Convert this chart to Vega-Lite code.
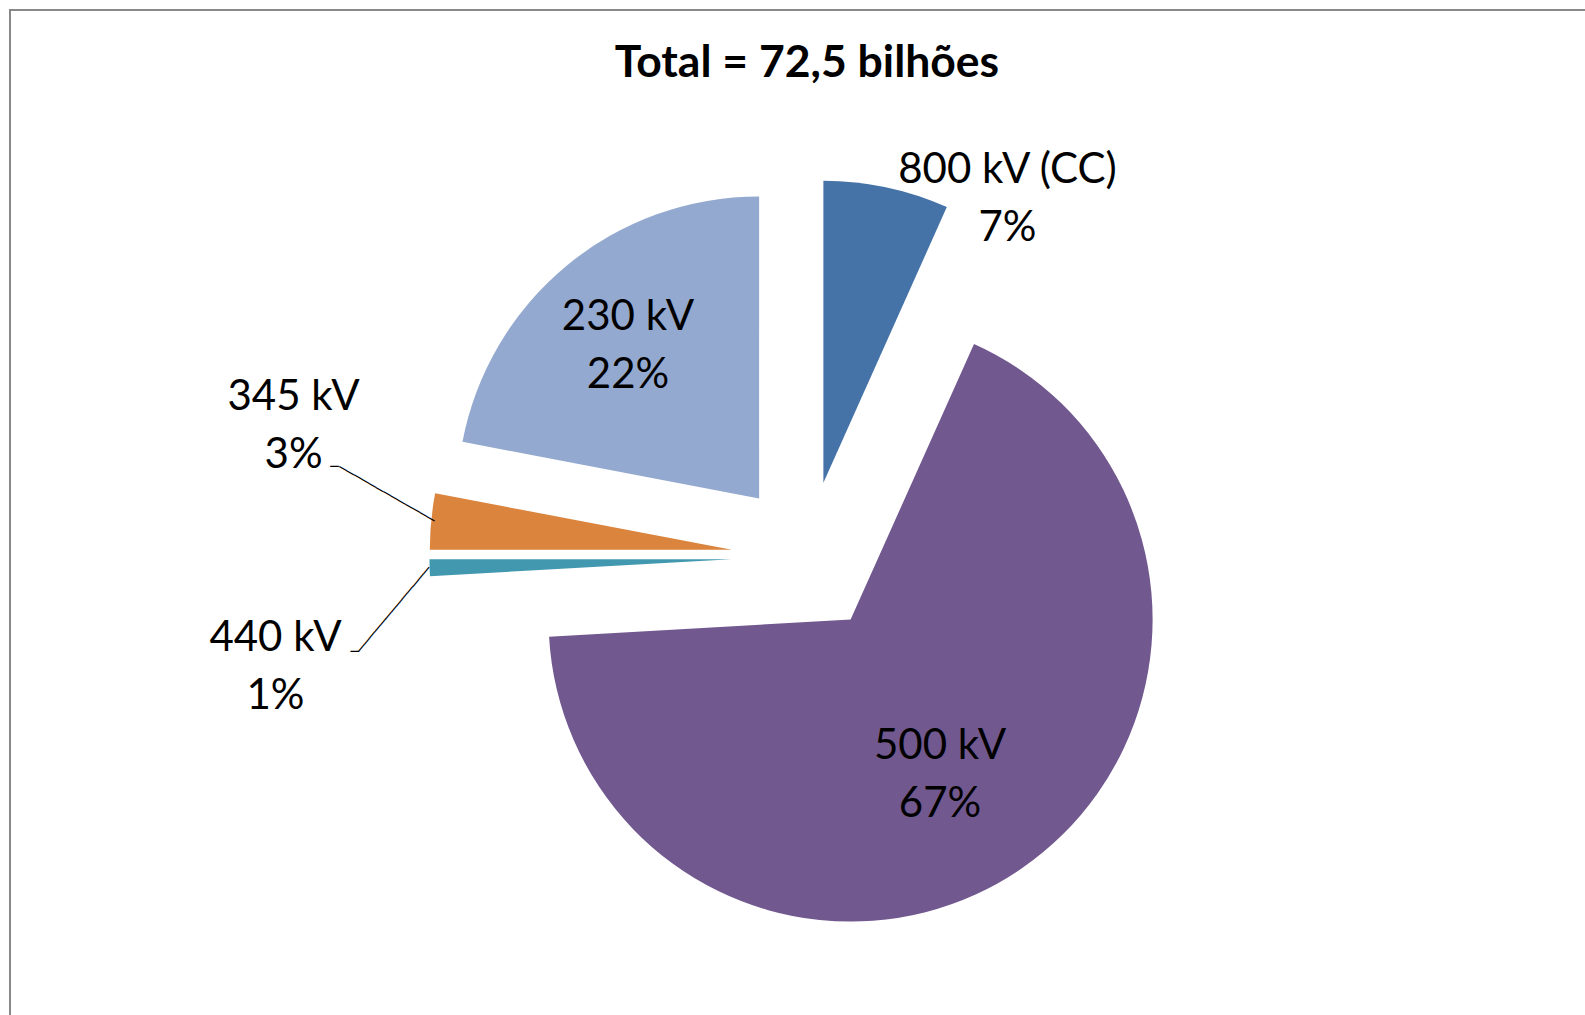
{
  "$schema": "https://vega.github.io/schema/vega-lite/v6.json",
  "width": 1575,
  "height": 1005,
  "autosize": "none",
  "padding": {"left": 10, "top": 10, "right": 0, "bottom": 0},
  "background": "white",
  "view": {"stroke": "#898989", "strokeWidth": 2, "fill": "white", "strokeDash": [1575, 2580, 1005, 10]},
  "config": {"font": "Lato"},
  "data": {"values": [
    {"idx": 1, "kV": "800 kV (CC)", "share": 6.7, "label": "800 kV (CC)\n7%"},
    {"idx": 2, "kV": "500 kV", "share": 67.4, "label": "500 kV\n67%"},
    {"idx": 3, "kV": "440 kV", "share": 0.9, "label": "440 kV\n1%"},
    {"idx": 4, "kV": "345 kV", "share": 3.0, "label": "345 kV\n3%"},
    {"idx": 5, "kV": "230 kV", "share": 22.0, "label": "230 kV\n22%"}
  ]},
  "transform": [{"stack": "share", "groupby": [], "sort": [{"field": "idx", "order": "ascending"}], "as": ["v0", "v1"]}],
  "layer": [
    {"transform": [{"filter": "datum.kV === '800 kV (CC)'"}],
     "mark": {"type": "arc", "radius": 302, "xOffset": 25.9, "yOffset": -29.8},
     "encoding": {"theta": {"field": "v0", "type": "quantitative", "scale": {"domain": [0, 100]}}, "theta2": {"field": "v1"},
       "color": {"field": "kV", "type": "nominal", "scale": {"domain": ["800 kV (CC)", "500 kV", "440 kV", "345 kV", "230 kV"], "range": ["#4572A7", "#71588F", "#4198AF", "#DB843D", "#93A9CF"]}, "legend": null}}},
    {"transform": [{"filter": "datum.kV === '500 kV'"}],
     "mark": {"type": "arc", "radius": 302, "xOffset": 53.1, "yOffset": 107.1},
     "encoding": {"theta": {"field": "v0", "type": "quantitative", "scale": {"domain": [0, 100]}}, "theta2": {"field": "v1"},
       "color": {"field": "kV", "type": "nominal", "legend": null}}},
    {"transform": [{"filter": "datum.kV === '440 kV'"}],
     "mark": {"type": "arc", "radius": 302, "xOffset": -66.0, "yOffset": 46.65},
     "encoding": {"theta": {"field": "v0", "type": "quantitative", "scale": {"domain": [0, 100]}}, "theta2": {"field": "v1"},
       "color": {"field": "kV", "type": "nominal", "legend": null}}},
    {"transform": [{"filter": "datum.kV === '345 kV'"}],
     "mark": {"type": "arc", "radius": 302, "xOffset": -65.7, "yOffset": 37.35},
     "encoding": {"theta": {"field": "v0", "type": "quantitative", "scale": {"domain": [0, 100]}}, "theta2": {"field": "v1"},
       "color": {"field": "kV", "type": "nominal", "legend": null}}},
    {"transform": [{"filter": "datum.kV === '230 kV'"}],
     "mark": {"type": "arc", "radius": 302, "xOffset": -38.4, "yOffset": -14.1},
     "encoding": {"theta": {"field": "v0", "type": "quantitative", "scale": {"domain": [0, 100]}}, "theta2": {"field": "v1"},
       "color": {"field": "kV", "type": "nominal", "legend": null}}},
    {"mark": {"type": "text", "radius": 299, "xOffset": -65.7, "yOffset": 37.35, "angle": 29.8, "align": "right", "baseline": "middle", "fontSize": 14, "font": "DejaVu Sans", "color": "black"},
     "encoding": {"theta": {"field": "share", "type": "quantitative", "stack": true, "scale": {"domain": [0, 100]}}, "order": {"field": "idx"},
       "text": {"condition": {"test": "datum.kV === '345 kV'", "value": "─────────────"}, "value": ""}}},
    {"mark": {"type": "text", "radius": 299, "xOffset": -65.7, "yOffset": 37.35, "dx": -95.5, "dy": -54.7, "align": "right", "baseline": "middle", "fontSize": 14, "font": "DejaVu Sans", "color": "black"},
     "encoding": {"theta": {"field": "share", "type": "quantitative", "stack": true, "scale": {"domain": [0, 100]}}, "order": {"field": "idx"},
       "text": {"condition": {"test": "datum.kV === '345 kV'", "value": "─"}, "value": ""}}},
    {"mark": {"type": "text", "radius": 302, "xOffset": -66.0, "yOffset": 46.65, "angle": -50, "align": "right", "baseline": "middle", "fontSize": 14, "font": "DejaVu Sans", "color": "black"},
     "encoding": {"theta": {"field": "share", "type": "quantitative", "stack": true, "scale": {"domain": [0, 100]}}, "order": {"field": "idx"},
       "text": {"condition": {"test": "datum.kV === '440 kV'", "value": "─────────────"}, "value": ""}}},
    {"mark": {"type": "text", "radius": 302, "xOffset": -66.0, "yOffset": 46.65, "dx": -70.8, "dy": 84.3, "align": "right", "baseline": "middle", "fontSize": 14, "font": "DejaVu Sans", "color": "black"},
     "encoding": {"theta": {"field": "share", "type": "quantitative", "stack": true, "scale": {"domain": [0, 100]}}, "order": {"field": "idx"},
       "text": {"condition": {"test": "datum.kV === '440 kV'", "value": "─"}, "value": ""}}},
    {"mark": {"type": "text", "radius": 407.8, "xOffset": 10, "yOffset": 44.5, "dx": 114.8, "dy": 24.5, "align": "center", "baseline": "alphabetic", "lineBreak": "\n", "lineHeight": 58, "fontSize": 42, "font": "Lato", "color": "black"},
     "encoding": {"theta": {"field": "share", "type": "quantitative", "stack": true, "scale": {"domain": [0, 100]}}, "order": {"field": "idx"},
       "text": {"condition": {"test": "datum.kV === '800 kV (CC)'", "field": "label"}, "value": ""}}},
    {"mark": {"type": "text", "radius": 241.6, "xOffset": 10, "yOffset": 44.5, "dx": -4.5, "dy": 3.0, "align": "center", "baseline": "alphabetic", "lineBreak": "\n", "lineHeight": 58, "fontSize": 42, "font": "Lato", "color": "black"},
     "encoding": {"theta": {"field": "share", "type": "quantitative", "stack": true, "scale": {"domain": [0, 100]}}, "order": {"field": "idx"},
       "text": {"condition": {"test": "datum.kV === '500 kV'", "field": "label"}, "value": ""}}},
    {"mark": {"type": "text", "radius": 529.1, "xOffset": 10, "yOffset": 44.5, "dx": -3.1, "dy": 79, "align": "center", "baseline": "alphabetic", "lineBreak": "\n", "lineHeight": 58, "fontSize": 42, "font": "Lato", "color": "black"},
     "encoding": {"theta": {"field": "share", "type": "quantitative", "stack": true, "scale": {"domain": [0, 100]}}, "order": {"field": "idx"},
       "text": {"condition": {"test": "datum.kV === '440 kV'", "field": "label"}, "value": ""}}},
    {"mark": {"type": "text", "radius": 525.6, "xOffset": 10, "yOffset": 44.5, "dx": 9.3, "dy": -97.5, "align": "center", "baseline": "alphabetic", "lineBreak": "\n", "lineHeight": 58, "fontSize": 42, "font": "Lato", "color": "black"},
     "encoding": {"theta": {"field": "share", "type": "quantitative", "stack": true, "scale": {"domain": [0, 100]}}, "order": {"field": "idx"},
       "text": {"condition": {"test": "datum.kV === '345 kV'", "field": "label"}, "value": ""}}},
    {"mark": {"type": "text", "radius": 289.3, "xOffset": 10, "yOffset": 44.5, "dx": 4.9, "dy": -4.1, "align": "center", "baseline": "alphabetic", "lineBreak": "\n", "lineHeight": 58, "fontSize": 42, "font": "Lato", "color": "black"},
     "encoding": {"theta": {"field": "share", "type": "quantitative", "stack": true, "scale": {"domain": [0, 100]}}, "order": {"field": "idx"},
       "text": {"condition": {"test": "datum.kV === '230 kV'", "field": "label"}, "value": ""}}},
    {"mark": {"type": "text", "dx": 9.5, "dy": -436, "align": "center", "baseline": "alphabetic", "fontSize": 44.5, "fontWeight": "bold", "font": "Lato", "color": "black"},
     "encoding": {"text": {"condition": {"test": "datum.idx === 1", "value": "Total = 72,5 bilhões"}, "value": ""}}}
  ]
}
